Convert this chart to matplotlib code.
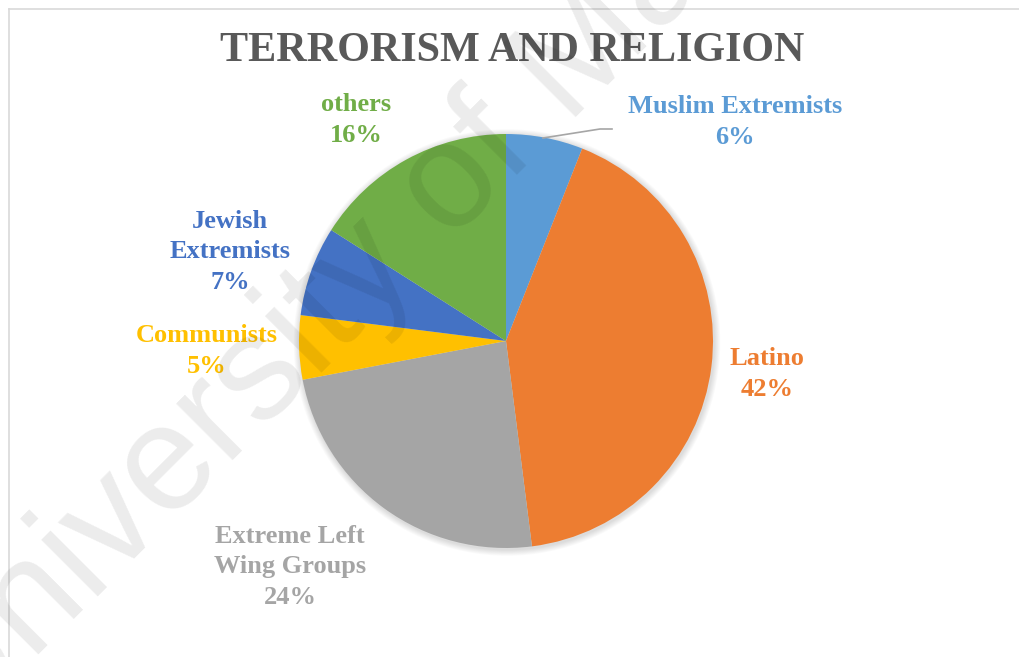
import matplotlib.pyplot as plt
from matplotlib.patches import Circle

# share of attacks by group (percent)
groups = ["Muslim Extremists", "Latino", "Extreme Left\nWing Groups",
          "Communists", "Jewish\nExtremists", "others"]
shares = [6, 42, 24, 5, 7, 16]
colors = ["#5B9BD5", "#ED7D31", "#A5A5A5", "#FFC000", "#4472C4", "#70AD47"]

W, H = 1019, 657
fig = plt.figure(figsize=(W / 100, H / 100), dpi=100)
ax = fig.add_axes([0, 0, 1, 1])
ax.set_xlim(0, W)
ax.set_ylim(0, H)
ax.set_aspect("equal")
ax.axis("off")

# chart frame (only top and left edges fall inside the image)
ax.plot([9, W], [H - 9, H - 9], color="#d9d9d9", lw=1.2)
ax.plot([9, 9], [H - 9, 0], color="#d9d9d9", lw=1.2)

cx, cy, r = 506, H - 341, 207

# soft shadow under the pie
for k in range(1, 8):
    ax.add_patch(Circle((cx + 1, cy - 1.5), r + k * 0.9, color="black",
                        alpha=0.018, lw=0, zorder=1))

ax.pie(shares, colors=colors, startangle=90, counterclock=False,
       center=(cx, cy), radius=r, frame=True,
       wedgeprops=dict(linewidth=0, zorder=2))
ax.set_xlim(0, W)
ax.set_ylim(0, H)
ax.axis("off")

label_pos = [(735, 122), (767, 374), (290, 567), (207, 351), (230, 252), (356, 120)]
for name, val, col, (lx, ly) in zip(groups, shares, colors, label_pos):
    ax.text(lx, H - ly, f"{name}\n{val}%", color=col, ha="center", va="center",
            fontsize=19, fontweight="bold", family="Liberation Serif",
            linespacing=1.42, zorder=5)

# leader line for the small slice
ax.plot([543, 600, 612], [H - 138, H - 129, H - 129], color="#a6a6a6", lw=1.2, zorder=4)

ax.text(W / 2 + 3, H - 51, "TERRORISM AND RELIGION", color="#595959",
        ha="center", va="center", fontsize=30.3, fontweight="bold",
        family="Liberation Serif", zorder=5)

fig.text(-45 / W, -0.123, "University of Malaya", rotation=45,
         rotation_mode="anchor", ha="left", va="baseline",
         fontsize=108, family="Liberation Sans", color="black", alpha=0.08)

fig.savefig("out.png", dpi=100)
